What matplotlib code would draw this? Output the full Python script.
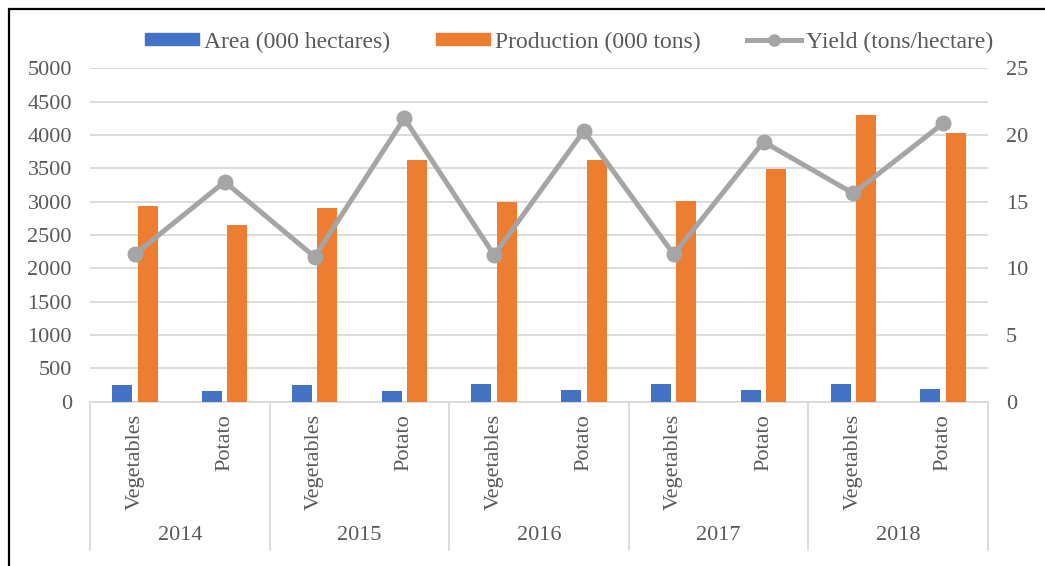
import matplotlib
matplotlib.use("Agg")
import matplotlib.pyplot as plt
import numpy as np
from matplotlib.patches import Rectangle
from matplotlib.lines import Line2D

years = ["2014", "2015", "2016", "2017", "2018"]
crops = ["Vegetables", "Potato"]
area = [256, 153, 257, 160, 265, 168, 267, 168, 268, 187]
production = [2935, 2650, 2910, 3625, 2995, 3625, 3015, 3490, 4300, 4025]
yield_ = [11.05, 16.49, 10.87, 21.24, 11.0, 20.31, 11.05, 19.49, 15.62, 20.87]
left_ticks = [0, 500, 1000, 1500, 2000, 2500, 3000, 3500, 4000, 4500, 5000]
right_ticks = [0, 5, 10, 15, 20, 25]

BLUE = "#4472C4"
ORANGE = "#ED7D31"
GRAY = "#A5A5A5"
GRID = "#D9D9D9"
TXT = "#595959"

plt.rcParams["font.family"] = ["Liberation Serif", "DejaVu Serif"]
FS = 16
LFS = 17

fig = plt.figure(figsize=(10.45, 5.66), dpi=100)
ax = fig.add_axes([90 / 1045, 1 - 401.7 / 566, (988 - 90) / 1045, (401.7 - 68.3) / 566])
ax2 = ax.twinx()

n = len(area)
x = np.arange(n)
w = 0.223
off = 0.142
ax.bar(x - off, area, width=w, color=BLUE, zorder=3)
ax.bar(x + off, production, width=w, color=ORANGE, zorder=3)
ax.set_xlim(-0.5, n - 0.5)
ax.set_ylim(0, 5000)
ax.set_yticks(left_ticks)
ax.set_yticklabels([str(t) for t in left_ticks], fontsize=FS, color=TXT)
ax.tick_params(axis="y", length=0, pad=13)
ax.grid(axis="y", color=GRID, lw=1.3, zorder=0)
ax.set_axisbelow(True)
ax.set_xticks([])
for s in ["top", "left", "right"]:
    ax.spines[s].set_visible(False)
ax.spines["bottom"].set_color(GRID)
ax.spines["bottom"].set_linewidth(1.3)

ax2.plot(x, yield_, color=GRAY, lw=3.6, marker="o", ms=10.5, zorder=4)
ax2.set_ylim(0, 25)
ax2.set_yticks(right_ticks)
ax2.set_yticklabels([str(t) for t in right_ticks], fontsize=FS, color=TXT)
ax2.tick_params(axis="y", length=0, pad=13)
for s in ["top", "left", "right", "bottom"]:
    ax2.spines[s].set_visible(False)

# multi-level category axis
tr = ax.get_xaxis_transform()
axh = 401.7 - 68.3
ybot = -(550 - 401.7) / axh
for b in np.arange(-0.5, n, 2):
    ax.plot([b, b], [0, ybot], transform=tr, color=GRID, lw=1.3, clip_on=False)
for i in range(n):
    ax.text(i, -(414 - 401.7) / axh, crops[i % 2], transform=tr, rotation=90,
            ha="center", va="top", fontsize=FS, color=TXT)
for j, yr in enumerate(years):
    ax.text(2 * j + 0.5, -(536 - 401.7) / axh, yr, transform=tr,
            ha="center", va="center", fontsize=FS, color=TXT)

handles = [
    Rectangle((0, 0), 1, 1, color=BLUE),
    Rectangle((0, 0), 1, 1, color=ORANGE),
    Line2D([], [], color=GRAY, lw=3.6, marker="o", ms=8),
]
fig.legend(handles, ["Area (000 hectares)", "Production (000 tons)", "Yield (tons/hectare)"],
           loc="center", bbox_to_anchor=(569 / 1045, 1 - 42 / 566), ncol=3, frameon=False,
           fontsize=LFS, labelcolor=TXT, handlelength=2.3, handleheight=0.42,
           handletextpad=0.2, columnspacing=1.95, borderpad=0, borderaxespad=0)

fig.add_artist(Rectangle((9 / 1045, -0.02), 1.1, 1 - 9 / 566 + 0.02, transform=fig.transFigure,
                         fill=False, edgecolor="black", lw=1.6))

fig.savefig("out.png", dpi=100, facecolor="white")
